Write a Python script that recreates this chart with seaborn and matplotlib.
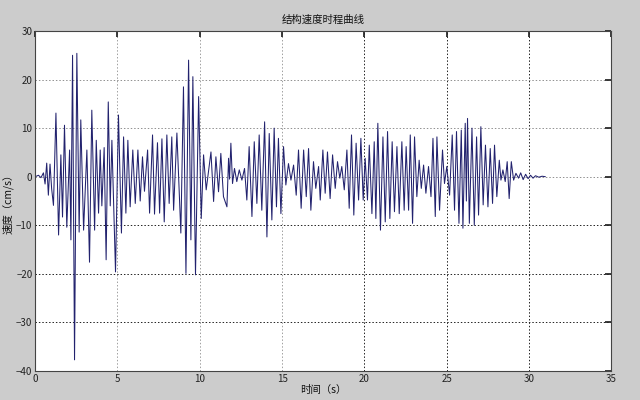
import matplotlib
matplotlib.use("Agg")
import matplotlib.pyplot as plt
import seaborn as sns
import pandas as pd

# Extremes of the velocity time history
time_s = [0.00, 0.20, 0.35, 0.50, 0.60, 0.70, 0.80, 0.90, 1.00,
          1.11, 1.26, 1.42, 1.56, 1.66, 1.78, 1.92, 2.09, 2.17, 2.27, 2.39, 2.53, 2.67, 2.77, 2.94,
          3.14, 3.30, 3.44, 3.61, 3.71, 3.85, 3.95, 4.05, 4.19, 4.31, 4.44, 4.56, 4.66, 4.88, 5.06,
          5.24, 5.37, 5.51, 5.63, 5.77, 5.93, 6.08, 6.24, 6.38, 6.52, 6.64, 6.83, 6.95, 7.13, 7.25,
          7.43, 7.56, 7.70, 7.84, 8.00, 8.14, 8.30, 8.41, 8.61, 8.85, 9.01, 9.16, 9.32, 9.46, 9.58,
          9.74, 9.93, 10.09, 10.23, 10.39, 10.68, 10.84, 10.98, 11.14, 11.28, 11.44, 11.65, 11.75,
          11.81, 11.89, 11.99, 12.11, 12.25, 12.40, 12.56, 12.72, 12.86, 13.00, 13.17, 13.31, 13.47,
          13.61, 13.77, 13.94, 14.08, 14.22, 14.38, 14.52, 14.66, 14.78, 14.93, 15.09, 15.23, 15.39,
          15.54, 15.70, 15.86, 16.00, 16.16, 16.31, 16.47, 16.61, 16.75, 16.91, 17.05, 17.22, 17.32,
          17.48, 17.62, 17.76, 17.92, 18.07, 18.23, 18.37, 18.51, 18.63, 18.78, 18.94, 19.08, 19.22,
          19.36, 19.50, 19.65, 19.79, 19.93, 20.05, 20.19, 20.30, 20.46, 20.60, 20.70, 20.82, 20.98,
          21.13, 21.27, 21.41, 21.55, 21.69, 21.83, 21.98, 22.12, 22.28, 22.42, 22.54, 22.69, 22.79,
          22.93, 23.05, 23.19, 23.33, 23.46, 23.60, 23.74, 23.90, 24.05, 24.17, 24.31, 24.41, 24.57,
          24.75, 24.87, 25.01, 25.18, 25.34, 25.48, 25.60, 25.75, 25.89, 25.99, 26.13, 26.20, 26.27,
          26.38, 26.54, 26.68, 26.82, 26.94, 27.08, 27.22, 27.36, 27.51, 27.65, 27.79, 27.91, 28.05,
          28.20, 28.30, 28.42, 28.56, 28.68, 28.80, 28.93, 29.07, 29.21, 29.37, 29.50, 29.65, 29.80,
          29.95, 30.10, 30.25, 30.40, 30.60, 30.80, 31.00]

velocity_cms = [0.0, 0.3, -0.2, 0.8, -1.5, 2.8, -3.8, 2.6, -2.5,
                -5.9, 13.1, -12.0, 4.5, -8.3, 10.6, -10.4, 5.5, -13.0, 25.0, -37.7, 25.4, -11.4, 11.7, -11.0,
                5.5, -17.6, 13.7, -11.0, 7.5, -7.5, 5.5, -6.0, 6.0, -17.1, 15.4, -6.0, 7.5, -19.6, 12.7,
                -11.6, 8.2, -7.5, 7.5, -6.2, 5.5, -5.5, 5.5, -5.0, 4.1, -3.0, 5.5, -7.5, 8.6, -7.7,
                7.0, -7.5, 7.8, -9.3, 8.6, -5.5, 8.2, -6.9, 9.0, -11.6, 18.5, -19.9, 24.0, -13.0, 20.6,
                -20.2, 16.5, -8.6, 4.5, -2.7, 5.1, -5.1, 4.1, -3.1, 4.8, -4.1, -6.2, 3.8,
                -0.5, 6.9, -1.4, 1.7, -1.0, 1.4, -0.7, 1.7, -4.8, 6.2, -8.2, 7.2, -5.5,
                8.6, -6.9, 11.3, -12.4, 8.9, -8.9, 10.0, -6.2, 7.9, -7.6, 6.2, -1.7, 2.7,
                -0.7, 2.4, -3.8, 5.5, -6.5, 5.5, -4.1, 5.8, -6.9, 3.1, -2.4, 2.1, -4.8,
                5.5, -3.4, 5.1, -4.5, 4.5, -2.4, 3.1, -0.3, 2.1, -2.7, 5.5, -6.5, 8.6,
                -7.9, 6.9, -4.8, 7.9, -4.8, 3.8, -4.8, 6.5, -7.6, 7.2, -8.6, 11.0, -11.0,
                8.2, -9.3, 9.3, -8.6, 7.2, -7.2, 6.2, -7.6, 7.2, -6.9, 6.2, -6.9, 8.6,
                -9.6, 8.2, -4.1, 3.4, -2.4, 2.4, -3.4, 2.1, -4.1, 7.9, -8.2, 8.2, -6.9,
                5.5, -1.4, 2.1, -3.8, 8.6, -6.9, 9.3, -9.6, 9.6, -10.6, 11.0, -5.0, 12.0,
                -9.6, 10.0, -10.0, 8.2, -7.9, 10.3, -5.8, 6.5, -6.2, 5.8, -5.5, 6.5, -4.1,
                3.4, -0.7, 1.4, -1.0, 3.1, -4.5, 3.1, -0.7, 0.7, -0.3, 0.8, -0.6, 0.5,
                -0.4, 0.3, -0.3, 0.2, -0.1, 0.1, 0.0]

x_ticks = [0, 5, 10, 15, 20, 25, 30, 35]
y_ticks = [-40, -30, -20, -10, 0, 10, 20, 30]
title_text = "结构速度时程曲线"
x_label = "时间（s）"
y_label = "速度（cm/s）"

df = pd.DataFrame({"t": time_s, "v": velocity_cms})

sns.set_theme(style="white")
plt.rcParams["font.family"] = ["Noto Sans CJK SC", "DejaVu Sans"]

fig = plt.figure(figsize=(6.4, 4.0), dpi=100, facecolor="#cccccc")
ax = fig.add_axes([0.055, 0.0725, 0.90, 0.85])
ax.set_facecolor("white")

sns.lineplot(data=df, x="t", y="v", ax=ax, sort=False, estimator=None,
             color="#22226e", linewidth=0.75)

ax.set_xlim(0, 35)
ax.set_ylim(-40, 30)
ax.set_xticks(x_ticks)
ax.set_yticks(y_ticks)
ax.tick_params(axis="both", direction="in", length=4, labelsize=7, colors="#222222",
               top=True, right=True, pad=2)
for s in ax.spines.values():
    s.set_color("#444444")
    s.set_linewidth(0.8)

ax.grid(True, linestyle=(0, (1.5, 2)), linewidth=0.7, color="#222222")
for i, gl in enumerate(ax.get_xgridlines()):
    if x_ticks[i] in (5, 10, 15):
        gl.set_color("#a0a0a0")
for i, gl in enumerate(ax.get_ygridlines()):
    if y_ticks[i] in (0, 10, 20):
        gl.set_color("#909090")

ax.set_title(title_text, fontsize=7.5, pad=6, color="#111111")
ax.set_xlabel(x_label, fontsize=7.5, labelpad=1, color="#111111")
ax.set_ylabel(y_label, fontsize=7.5, color="#111111")
ax.yaxis.set_label_coords(-0.038, 0.5)

fig.savefig("out.png", dpi=100, facecolor=fig.get_facecolor())
